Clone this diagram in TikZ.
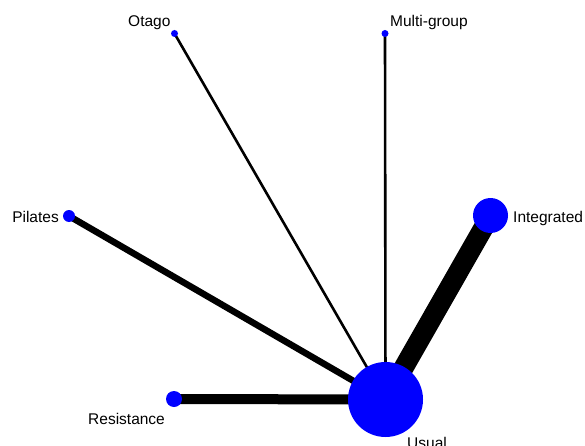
\documentclass[tikz,border=0pt]{standalone}
\usepackage{fontspec}
\setmainfont{Liberation Sans}
\usetikzlibrary{backgrounds}
\definecolor{nodeblue}{RGB}{0,0,255}
\tikzset{
  trt/.style={circle, fill=nodeblue, inner sep=0pt, minimum size=#1},
  lbl/.style={inner sep=0pt, font=\fontsize{15.5}{18}\selectfont},
  link/.style={draw=black, line width=#1},
}
\begin{document}
\begin{tikzpicture}[x=1pt, y=-1pt]
  \useasboundingbox (0,0) rectangle (585,446);
  % treatments
  \node[trt=75pt] (usual) at (385.5,399.5) {};
  \node[trt=35pt] (integ) at (490.5,215.5) {};
  \node[trt=12pt] (pil)   at (69,216) {};
  \node[trt=16pt] (res)   at (174,399) {};
  \node[trt=7pt]  (ota)   at (174.5,33.5) {};
  \node[trt=7pt]  (multi) at (385,33.5) {};
  % names
  \node[lbl, anchor=base west] (usualL) at (407,448.5) {Usual};
  \node[lbl, anchor=base west] (integL) at (513,222) {Integrated};
  \node[lbl, anchor=base east] (pilL)   at (59,222) {Pilates};
  \node[lbl, anchor=base west] (resL)   at (88,424) {Resistance};
  \node[lbl, anchor=base west] (otaL)   at (128,27) {Otago};
  \node[lbl, anchor=base west] (multiL) at (390,27) {Multi-group};
  % comparisons, weighted by number of studies
  \begin{pgfonlayer}{background}
    \draw[link=20pt] (usual.center) -- (integ.center);
    \draw[link=6.5pt] (usual.center) -- (pil.center);
    \draw[link=10pt] (usual.center) -- (res.center);
    \draw[link=2.6pt] (usual.center) -- (ota.center);
    \draw[link=2.6pt] (usual.center) -- (multi.center);
  \end{pgfonlayer}
\end{tikzpicture}
\end{document}
